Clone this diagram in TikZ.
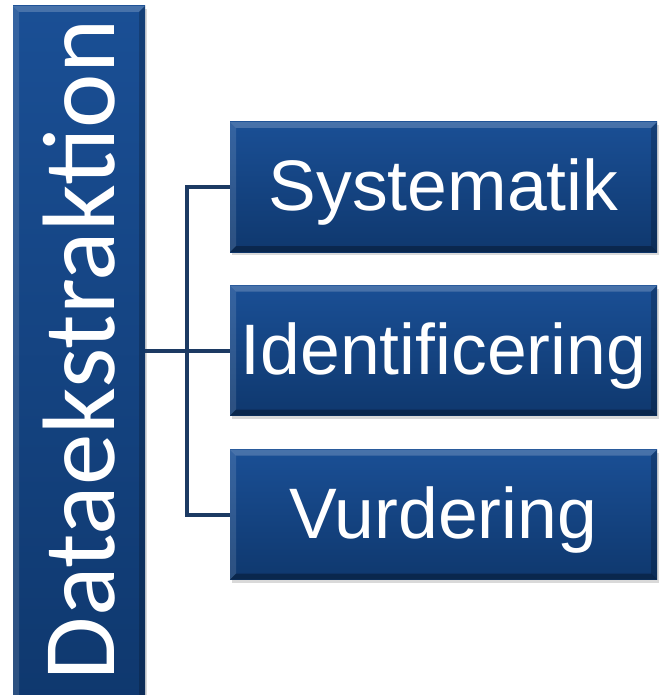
\documentclass[tikz,border=0pt]{standalone}
\usepackage{fontspec}
\setmainfont{Liberation Sans}
\newfontfamily\calibfont{Carlito}
\usetikzlibrary{calc,shadows}
\definecolor{boxtop}{HTML}{1A4F95}
\definecolor{boxbot}{HTML}{0F386E}
\definecolor{connblue}{HTML}{1C3A63}
\tikzset{
  bevel/.style={path picture={
    \coordinate (bnw) at (path picture bounding box.north west);
    \coordinate (bne) at (path picture bounding box.north east);
    \coordinate (bsw) at (path picture bounding box.south west);
    \coordinate (bse) at (path picture bounding box.south east);
    \fill[white,opacity=0.2] (bnw) -- (bne) -- ($(bne)+(-#1,-#1)$) -- ($(bnw)+(#1,-#1)$) -- cycle;
    \fill[white,opacity=0.12] (bnw) -- ($(bnw)+(#1,-#1)$) -- ($(bsw)+(#1,#1)$) -- (bsw) -- cycle;
    \fill[black,opacity=0.3] (bsw) -- ($(bsw)+(#1,#1)$) -- ($(bse)+(-#1,#1)$) -- (bse) -- cycle;
    \fill[black,opacity=0.2] (bne) -- (bse) -- ($(bse)+(-#1,#1)$) -- ($(bne)+(-#1,-#1)$) -- cycle;
  }},
  bevel/.default=6pt,
  basebox/.style={inner sep=0pt, top color=boxtop, bottom color=boxbot, text=white,
    bevel, drop shadow={opacity=0.3,shadow xshift=1.5pt,shadow yshift=-3pt}},
  rbox/.style={basebox, minimum width=427pt, minimum height=130pt,
    font=\fontsize{71.5}{84}\selectfont, text height=51pt, text depth=4pt},
  tbox/.style={basebox, minimum width=132pt, minimum height=698pt,
    font=\calibfont\fontsize{103}{110}\selectfont},
  connline/.style={draw=connblue, line width=4pt}
}
\begin{document}
\begin{tikzpicture}[x=1pt,y=-1pt]
\useasboundingbox (0,0) rectangle (658,695);
\node[tbox] (dat) at (79,355) {\rotatebox{90}{\hspace{10pt}Dataekstraktion}\hspace{8pt}};
\node[rbox] (sys) at (443.5,187) {Systematik};
\node[rbox] (ide) at (443.5,350.5) {Identificering};
\node[rbox] (vur) at (443.5,514.5) {Vurdering};
\coordinate (bus) at (187,351);
\draw[connline] (dat.east |- ide.west) -- (ide.west);
\draw[connline] (sys.west) -- (sys.west -| bus) -- (vur.west -| bus) -- (vur.west);
\end{tikzpicture}
\end{document}
